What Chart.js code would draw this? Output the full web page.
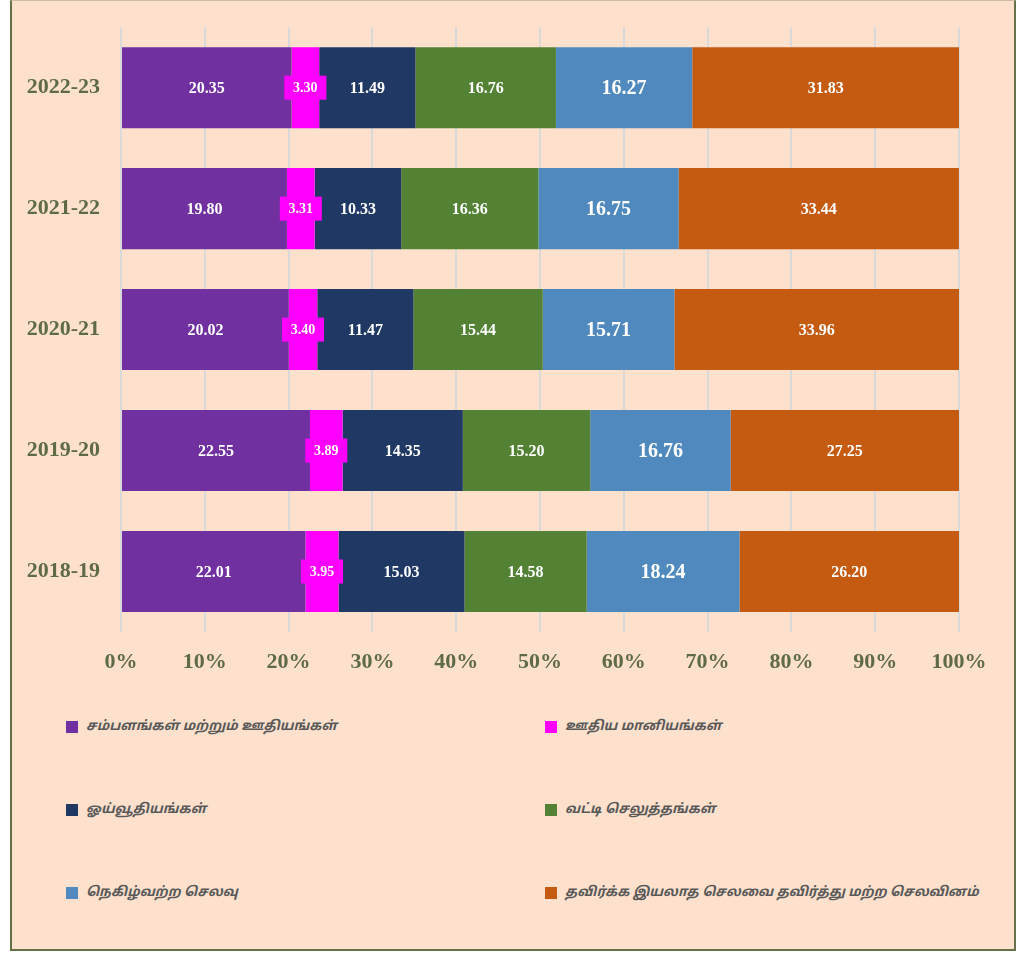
<!DOCTYPE html>
<html>
<head>
<meta charset="utf-8">
<script src="https://cdn.jsdelivr.net/npm/chart.js@4"></script>
<style>
  html, body { margin: 0; padding: 0; background: #fff; }
  #frame {
    position: absolute; left: 10px; top: 0; width: 1002px; height: 948px;
    background: #FDE1CD;
    border-left: 2px solid #667049; border-right: 2px solid #667049;
    border-bottom: 2px solid #667049; border-top: 1px solid #CDBCA2;
  }
  #chart-wrap { position: absolute; left: 0; top: 0; width: 1002px; height: 690px; }
  .legend-item {
    position: absolute; height: 16px; line-height: 16px;
    font-family: "Noto Sans Tamil", "Noto Sans", sans-serif;
    font-weight: bold; font-style: italic; font-size: 13.3px; color: #595959;
    white-space: nowrap;
  }
  .legend-item span.box {
    position: absolute; left: 0; top: 1px; width: 12px; height: 12px;
  }
  .legend-item span.txt { position: absolute; left: 20px; top: -1px; }
</style>
</head>
<body>
<div id="frame">
  <div id="chart-wrap"><canvas id="chart"></canvas></div>
  <div id="legend"></div>
</div>
<script>
  'use strict';

  // Categories (top to bottom)
  const YEARS = ['2022-23', '2021-22', '2020-21', '2019-20', '2018-19'];

  // Series names
  const SERIES = [
    'சம்பளங்கள் மற்றும் ஊதியங்கள்',
    'ஊதிய மானியங்கள்',
    'ஓய்வூதியங்கள்',
    'வட்டி செலுத்தங்கள்',
    'நெகிழ்வற்ற செலவு',
    'தவிர்க்க இயலாத செலவை தவிர்த்து மற்ற செலவினம்'
  ];

  // Series values (percent share), in YEARS order
  const SALARIES = [20.35, 19.80, 20.02, 22.55, 22.01];
  const WAGE_GRANTS = [3.30, 3.31, 3.40, 3.89, 3.95];
  const PENSIONS = [11.49, 10.33, 11.47, 14.35, 15.03];
  const INTEREST = [16.76, 16.36, 15.44, 15.20, 14.58];
  const INFLEXIBLE = [16.27, 16.75, 15.71, 16.76, 18.24];
  const OTHER = [31.83, 33.44, 33.96, 27.25, 26.20];

  // X axis ticks
  const X_TICKS = [0, 10, 20, 30, 40, 50, 60, 70, 80, 90, 100];

  const COLORS = ['#7030A0', '#FF00FF', '#1F3864', '#548235', '#4F89BD', '#C55A11'];
  const LABEL_SIZES = [16, 14, 16, 16, 20, 16];
  const VALUES = [SALARIES, WAGE_GRANTS, PENSIONS, INTEREST, INFLEXIBLE, OTHER];

  /**
   * Draw value labels centred in each bar segment.
   */
  const segmentLabels = {
    id: 'segmentLabels',
    afterDatasetsDraw(chart) {
      const ctx = chart.ctx;
      ctx.save();
      ctx.textAlign = 'center';
      ctx.textBaseline = 'middle';
      chart.data.datasets.forEach(function (ds, i) {
        const meta = chart.getDatasetMeta(i);
        meta.data.forEach(function (bar, j) {
          const cx = (bar.x + bar.base) / 2;
          const cy = bar.y;
          if (i === 1) {
            ctx.fillStyle = COLORS[1];
            ctx.fillRect(cx - 21, cy - 12, 42, 24);
          }
          ctx.font = 'bold ' + LABEL_SIZES[i] + 'px "Liberation Serif", "Times New Roman", serif';
          ctx.fillStyle = '#ffffff';
          ctx.fillText(ds.data[j].toFixed(2), cx, cy + 1);
        });
      });
      ctx.restore();
    }
  };

  const ctx = document.getElementById('chart').getContext('2d');
  const chart = new Chart(ctx, {
    type: 'bar',
    data: {
      labels: YEARS,
      datasets: SERIES.map(function (name, i) {
        return {
          label: name,
          data: VALUES[i],
          backgroundColor: COLORS[i],
          borderWidth: 0,
          categoryPercentage: 1,
          barPercentage: 0.67
        };
      })
    },
    options: {
      indexAxis: 'y',
      responsive: true,
      maintainAspectRatio: false,
      animation: false,
      layout: { padding: { top: 18, right: 55, left: 0, bottom: 0 } },
      plugins: {
        legend: { display: false },
        tooltip: { enabled: false }
      },
      scales: {
        x: {
          stacked: true,
          min: 0,
          max: 100,
          afterBuildTicks: function (scale) {
            scale.ticks = X_TICKS.map(function (v) { return { value: v }; });
          },
          afterFit: function (scale) { scale.height = 59; },
          border: { display: false },
          grid: { color: '#D9D9D9', lineWidth: 2, drawTicks: false },
          ticks: {
            padding: 17,
            color: '#5E6B45',
            font: { family: '"Liberation Serif", "Times New Roman", serif', size: 22, weight: 'bold' },
            callback: function (v) { return v + '%'; }
          }
        },
        y: {
          stacked: true,
          afterFit: function (scale) { scale.width = 109; },
          border: { display: false },
          grid: { display: false },
          ticks: {
            padding: 13,
            color: '#5E6B45',
            font: { family: '"Liberation Serif", "Times New Roman", serif', size: 22, weight: 'bold' }
          }
        }
      }
    },
    plugins: [segmentLabels]
  });

  // HTML legend: two columns, three rows
  const legend = document.getElementById('legend');
  const COL_X = [54, 533];
  const ROW_Y = [719, 802, 885];
  SERIES.forEach(function (name, i) {
    const item = document.createElement('div');
    item.className = 'legend-item';
    item.style.left = COL_X[i % 2] + 'px';
    item.style.top = ROW_Y[Math.floor(i / 2)] + 'px';
    item.innerHTML = '<span class="box" style="background:' + COLORS[i] + '"></span><span class="txt"></span>';
    item.querySelector('.txt').textContent = name;
    legend.appendChild(item);
  });
</script>
</body>
</html>
